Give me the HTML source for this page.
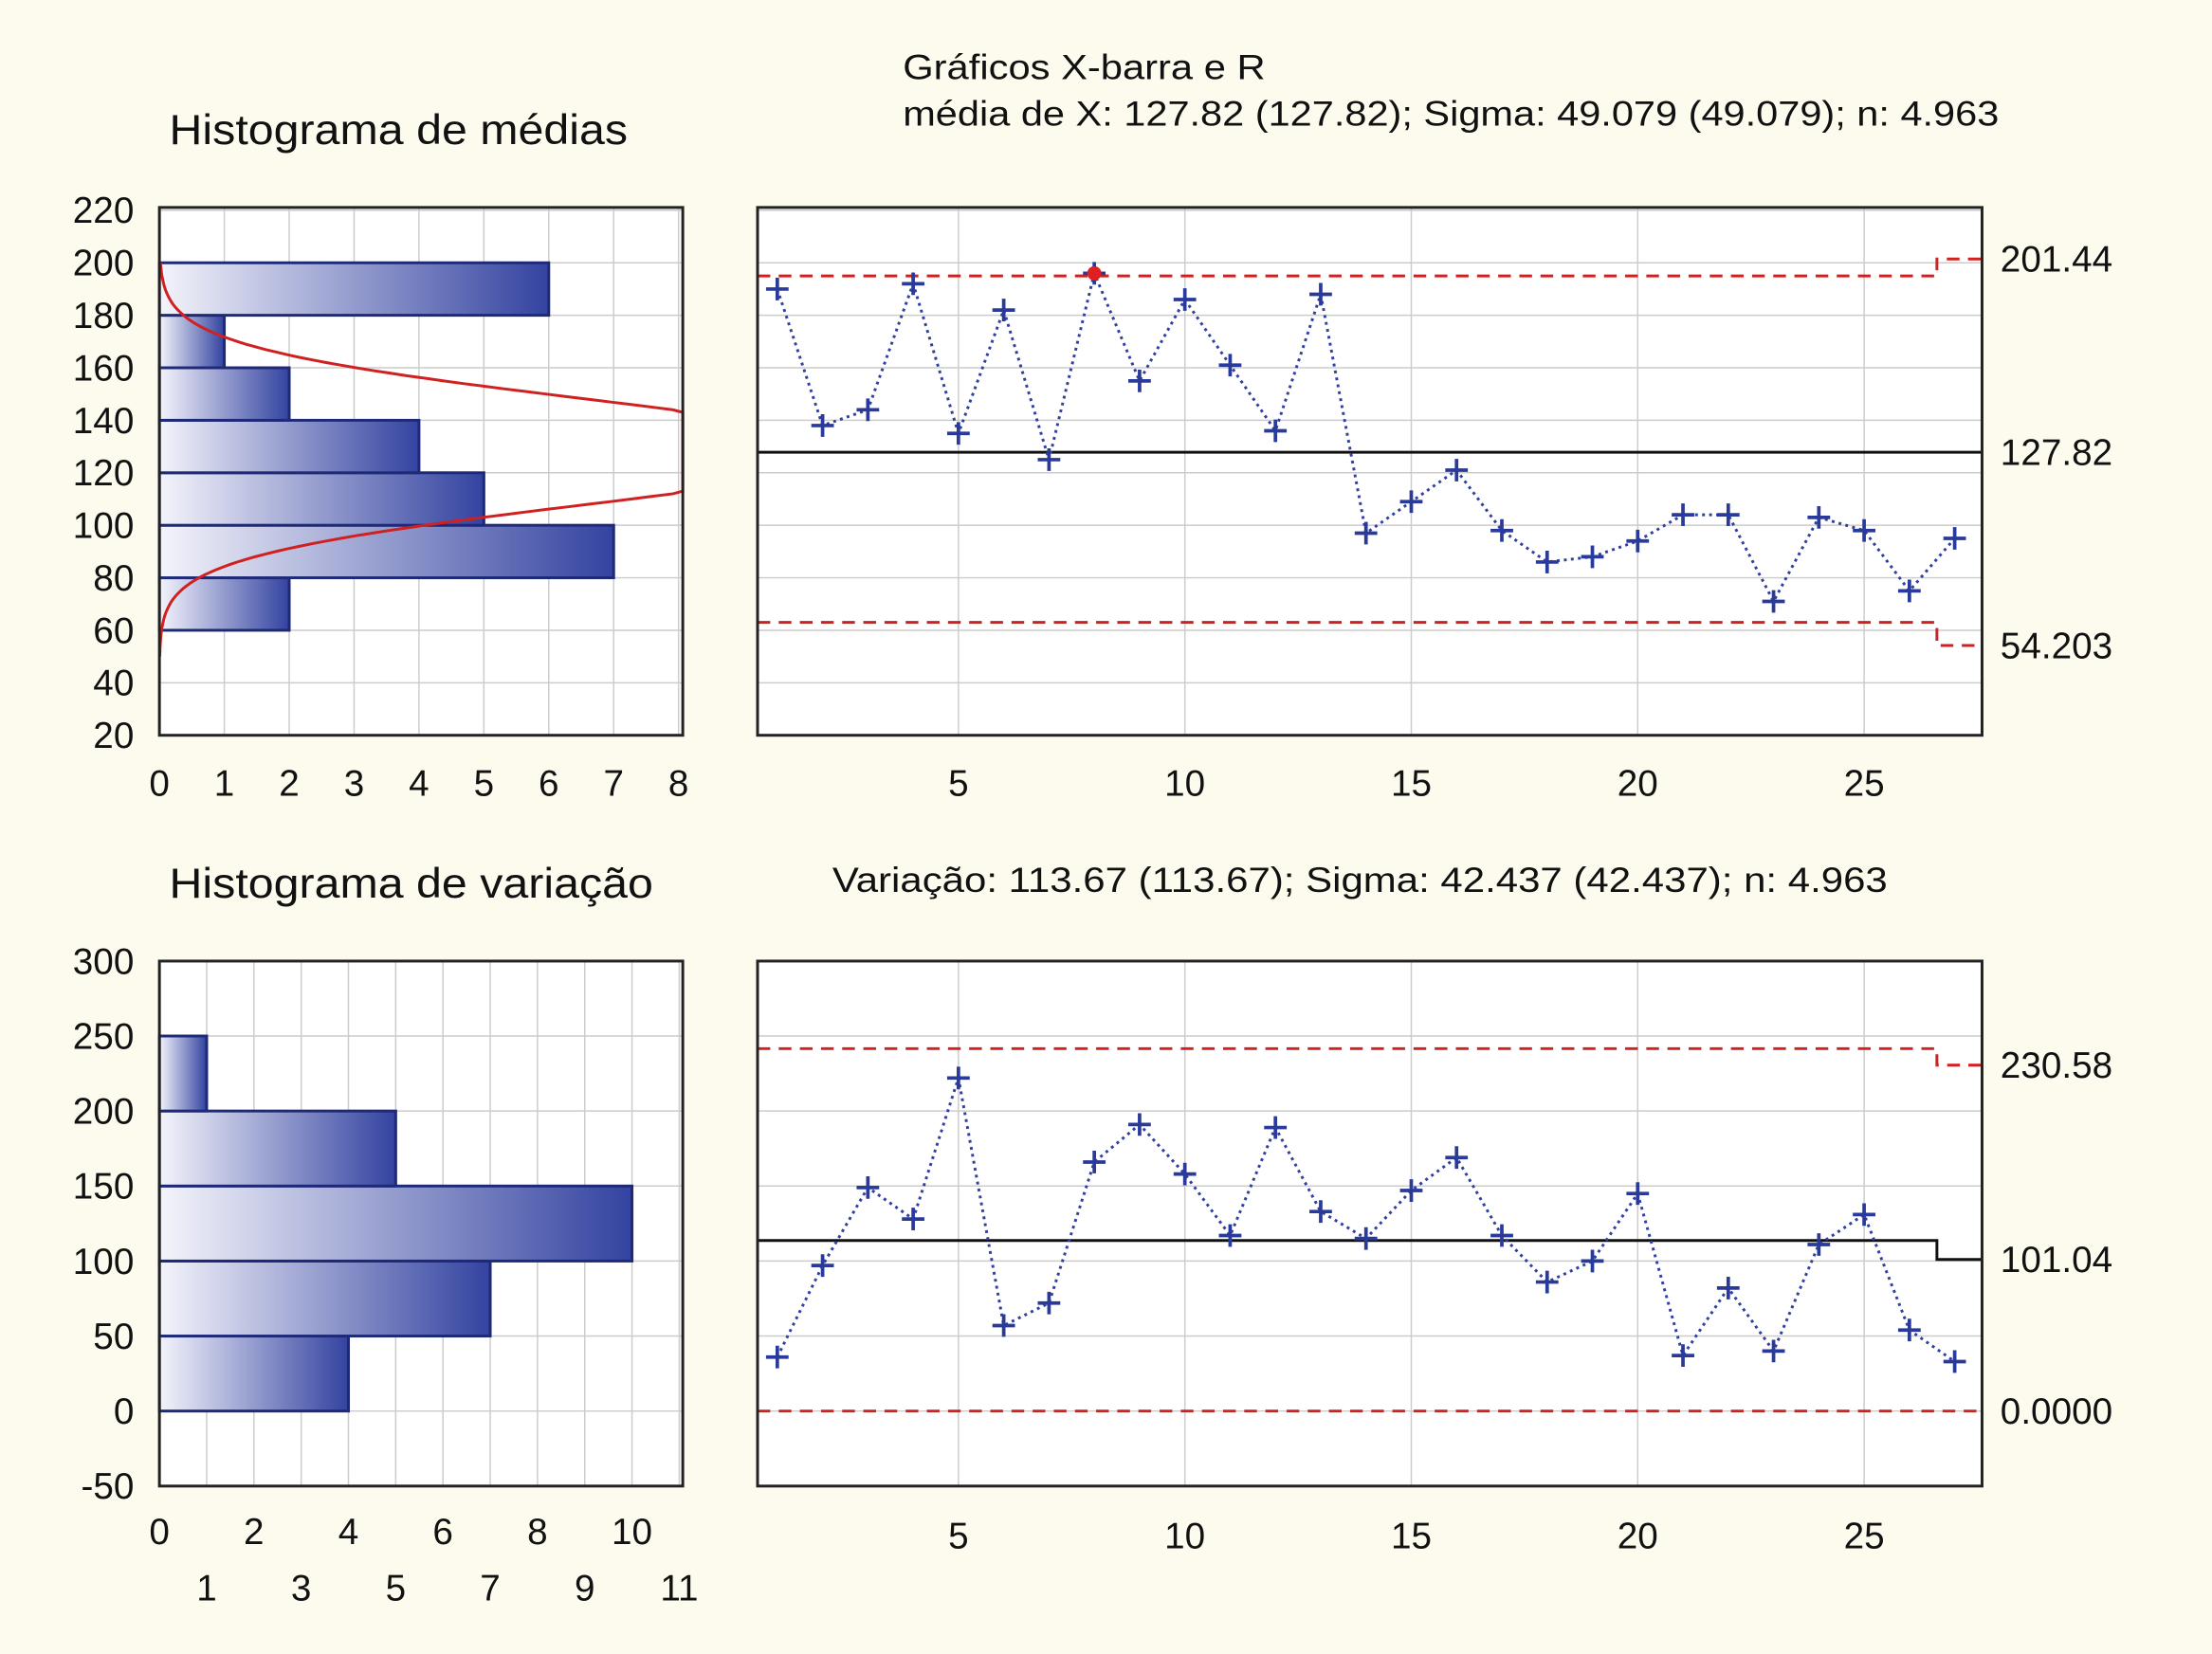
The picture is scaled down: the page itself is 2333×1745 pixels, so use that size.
<!DOCTYPE html>
<html><head><meta charset="utf-8">
<style>html,body{margin:0;padding:0;background:#fdfaee;}svg{display:block;}</style>
</head><body>
<svg id="c" width="2333" height="1745" viewBox="0 0 1568 1172" preserveAspectRatio="none" xmlns="http://www.w3.org/2000/svg" font-family="Liberation Sans, sans-serif">
<defs>
<linearGradient id="g" x1="0" x2="1" y1="0" y2="0"><stop offset="0" stop-color="#f4f4fb"/><stop offset="1" stop-color="#3343a0"/></linearGradient>
</defs>
<rect width="1568" height="1172" fill="#fdfaee"/>
</svg>
<script>
const histMeanBins=[60,80,100,120,140,160,180];
const histMeanCounts=[2,7,5,4,2,1,6];
const histMeanYTicks=[20,40,60,80,100,120,140,160,180,200,220];
const histMeanXTicks=[0,1,2,3,4,5,6,7,8];
const xbarValues=[190,138,144,192,135,182,125,196,155,186,161,136,188,97,109,121,98,86,88,94,104,104,71,103,98,75,95];
const xbarCenter=127.82, xbarUCL=201.44, xbarLCL=54.203, xbarUCLDraw=195, xbarLCLDraw=63;
const histRangeBins=[0,50,100,150,200];
const histRangeCounts=[4,7,10,5,1];
const histRangeYTicks=[-50,0,50,100,150,200,250,300];
const histRangeXTicks=[0,1,2,3,4,5,6,7,8,9,10,11];
const rValues=[36,97,149,128,222,57,72,166,191,158,117,189,133,115,147,169,117,86,100,145,37,82,40,111,131,54,33];
const rCenterDraw=113.67, rCenter=101.04, rUCLDraw=241.6, rUCL=230.58, rLCL=0;
const ctrlXTicks=[5,10,15,20,25];

const svg=document.getElementById('c');const NS='http://www.w3.org/2000/svg';
function el(t,a,txt,parent){const e=document.createElementNS(NS,t);for(const k in a)e.setAttribute(k,a[k]);if(txt!==undefined)e.textContent=txt;(parent||svg).appendChild(e);return e;}
function text(x,y,s,anchor,size,name,len){const a={x:x,y:y,'font-size':size||26,'text-anchor':anchor||'start',fill:'#111'};
if(len){a.textLength=len;a.lengthAdjust='spacingAndGlyphs';}
const e=el('text',a,s);

return e;}

const yT=v=>521-(v-20)*1.86;
const yB=v=>1053-(v+50)*1.063;
const xHT=c=>113+c*46;
const xHB=c=>113+c*33.5;
const xC=i=>551+(i-1)*32.1;

function panel(x1,y1,x2,y2,name){const r=el('rect',{x:x1,y:y1,width:x2-x1,height:y2-y1,fill:'#fff',stroke:'none'});

}
function frame(x1,y1,x2,y2){el('rect',{x:x1,y:y1,width:x2-x1,height:y2-y1,fill:'none',stroke:'#222','stroke-width':2});}
function grid(x1,y1,x2,y2){el('line',{x1:x1,y1:y1,x2:x2,y2:y2,stroke:'#ccc','stroke-width':1});}

text(120,102,'Histograma de médias','start',30,'hist-mean-title',325);
text(640,56,'Gráficos X-barra e R','start',25,'chart-title',257);
text(640,89,'média de X: 127.82 (127.82); Sigma: 49.079 (49.079); n: 4.963','start',25,'xbar-subtitle',777);
text(120,636,'Histograma de variação','start',30,'hist-range-title',343);
text(590,632,'Variação: 113.67 (113.67); Sigma: 42.437 (42.437); n: 4.963','start',25,'r-subtitle',748);

panel(113,147,484,521,'hist-mean-panel');
histMeanXTicks.forEach(t=>{grid(xHT(t),147,xHT(t),521);text(xHT(t),564,String(t),'middle',26,'hist-mean-x-tick');});
histMeanYTicks.forEach(t=>{grid(113,yT(t),484,yT(t));text(95,yT(t)+9,String(t),'end',26,'hist-mean-y-tick');});
histMeanBins.forEach((b,i)=>{const r=el('rect',{x:113,y:yT(b+20),width:xHT(histMeanCounts[i])-113,height:yT(b)-yT(b+20),fill:'url(#g)',stroke:'#1e2a78','stroke-width':2});

});
(function(){let d='';for(let v=200;v>=50;v-=1){const c=10.9*Math.exp(-Math.pow(v-128,2)/(2*400));let x=Math.min(xHT(c),484);d+=(d?'L':'M')+x.toFixed(1)+','+yT(v).toFixed(1);}
const p=el('path',{d:d,fill:'none',stroke:'#d02020','stroke-width':2});

})();
frame(113,147,484,521);

panel(537,147,1405,521,'xbar-panel');
ctrlXTicks.forEach(t=>{grid(xC(t),147,xC(t),521);text(xC(t),564,String(t),'middle',26,'xbar-x-tick');});
histMeanYTicks.forEach(t=>{grid(537,yT(t),1405,yT(t));});
el('line',{x1:537,y1:yT(xbarCenter),x2:1405,y2:yT(xbarCenter),stroke:'#111','stroke-width':2});
el('path',{d:`M537,${yT(xbarUCLDraw)}H1373V${yT(xbarUCL)}H1405`,fill:'none',stroke:'#d02020','stroke-width':2,'stroke-dasharray':'9,6'});
el('path',{d:`M537,${yT(xbarLCLDraw)}H1373V${yT(xbarLCL)}H1405`,fill:'none',stroke:'#d02020','stroke-width':2,'stroke-dasharray':'9,6'});
function series(vals,ys,name){const d=vals.map((v,i)=>(i?'L':'M')+xC(i+1)+','+ys(v)).join('');
const p=el('path',{d:d,fill:'none',stroke:'#3040a0','stroke-width':2,'stroke-dasharray':'2,3'});


vals.forEach((v,i)=>{const x=xC(i+1),y=ys(v);const g=el('path',{d:`M${x-8},${y}H${x+8}M${x},${y-8}V${y+8}`,stroke:'#2a3a9a','stroke-width':2.5});

});}
series(xbarValues,yT,'xbar');
{const i=xbarValues.indexOf(Math.max(...xbarValues));const c=el('circle',{cx:xC(i+1),cy:yT(xbarValues[i]),r:5,fill:'#e02020'});

}
frame(537,147,1405,521);
text(1418,yT(xbarUCL)+9,'201.44','start',26,'ucl-label');
text(1418,yT(xbarCenter)+9,'127.82','start',26,'center-label');
text(1418,yT(xbarLCL)+9,'54.203','start',26,'lcl-label');

panel(113,681,484,1053,'hist-range-panel');
histRangeXTicks.forEach(t=>{grid(xHB(t),681,xHB(t),1053);text(xHB(t),t%2?1134:1094,String(t),'middle',26,'hist-range-x-tick');});
histRangeYTicks.forEach(t=>{grid(113,yB(t),484,yB(t));text(95,yB(t)+9,String(t),'end',26,'hist-range-y-tick');});
histRangeBins.forEach((b,i)=>{const r=el('rect',{x:113,y:yB(b+50),width:xHB(histRangeCounts[i])-113,height:yB(b)-yB(b+50),fill:'url(#g)',stroke:'#1e2a78','stroke-width':2});

});
frame(113,681,484,1053);

panel(537,681,1405,1053,'r-panel');
ctrlXTicks.forEach(t=>{grid(xC(t),681,xC(t),1053);text(xC(t),1097,String(t),'middle',26,'r-x-tick');});
histRangeYTicks.forEach(t=>{grid(537,yB(t),1405,yB(t));});
el('path',{d:`M537,${yB(rCenterDraw)}H1373V${yB(rCenter)}H1405`,fill:'none',stroke:'#111','stroke-width':2});
el('path',{d:`M537,${yB(rUCLDraw)}H1373V${yB(rUCL)}H1405`,fill:'none',stroke:'#d02020','stroke-width':2,'stroke-dasharray':'9,6'});
el('line',{x1:537,y1:yB(rLCL),x2:1405,y2:yB(rLCL),stroke:'#d02020','stroke-width':2,'stroke-dasharray':'9,6'});
series(rValues,yB,'range');
frame(537,681,1405,1053);
text(1418,yB(rUCL)+9,'230.58','start',26,'r-ucl-label');
text(1418,yB(rCenter)+9,'101.04','start',26,'r-center-label');
text(1418,yB(rLCL)+9,'0.0000','start',26,'r-lcl-label');
</script>
</body></html>
